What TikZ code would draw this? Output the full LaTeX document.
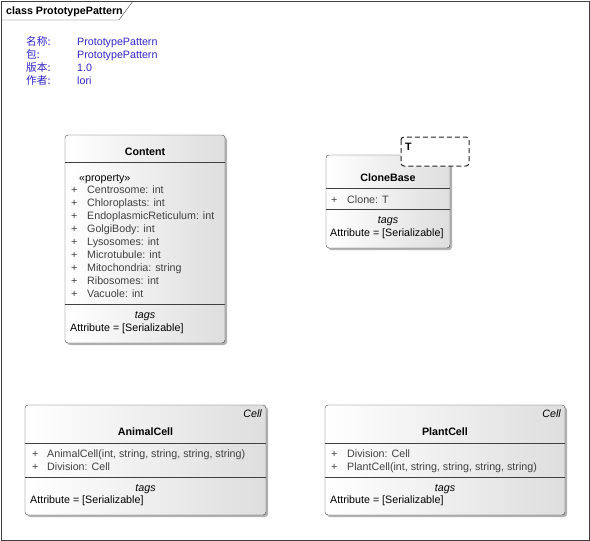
\documentclass[tikz,border=0pt]{standalone}
\usepackage{fontspec}
\setmainfont{Liberation Sans}
\newfontfamily\cjk{Noto Sans CJK SC}
\usetikzlibrary{positioning}
\definecolor{infoblue}{RGB}{48,36,200}
\definecolor{membergray}{RGB}{64,64,64}

\begin{document}
\begin{tikzpicture}[x=1pt, y=-1pt, font=\fontsize{10.7}{12}\selectfont,
    every node/.style={inner sep=0pt, anchor=base west},
    classbox/.style={draw=black!75, rounded corners=3pt, left color=white, right color=black!13},
    shadowbox/.style={fill=black!30, rounded corners=3pt},
    divider/.style={draw=black!75},
    info/.style={text=infoblue},
    member/.style={text=membergray},
    heading/.style={anchor=base, font=\fontsize{10.7}{12}\selectfont\bfseries},
    tagtitle/.style={anchor=base, font=\fontsize{10.7}{12}\selectfont\itshape},
    paramtag/.style={draw=black!85, dash pattern=on 5pt off 3pt, line width=1pt, rounded corners=3pt, fill=white}]
    \useasboundingbox (0,0) rectangle (590,541);

    % Frame and title tab
    \draw[black!75] (1,1) rectangle (589,540);
    \draw[black!75] (1,20) -- (119,20) -- (133,1);
    \node[font=\fontsize{10.7}{12}\selectfont\bfseries] (title) at (6,14.5) {class PrototypePattern};

    % Package info
    \node[info] (namekey) at (26,45) {\cjk 名称:};
    \node[info] (pkgkey) at (26,58) {\cjk 包:};
    \node[info] (verkey) at (26,71) {\cjk 版本:};
    \node[info] (authkey) at (26,84) {\cjk 作者:};
    \node[info] (nameval) at (77,45) {PrototypePattern};
    \node[info] (pkgval) at (77,58) {PrototypePattern};
    \node[info] (verval) at (77,71) {1.0};
    \node[info] (authval) at (77,84) {lori};

    % Content
    \fill[shadowbox] (67,137) rectangle (227,345);
    \draw[classbox] (65,135) rectangle (225,343);
    \node[heading] (content) at (145,155) {Content};
    \draw[divider] (65,162) -- (225,162);
    \node (contentstereo) at (79,181) {«property»};
    \foreach \attr [count=\i] in {Centrosome: int, Chloroplasts: int, EndoplasmicReticulum: int,
        GolgiBody: int, Lysosomes: int, Microtubule: int, Mitochondria: string,
        Ribosomes: int, Vacuole: int} {
        \node[member] (contentplus\i) at (71,180+13*\i) {+};
        \node[member] (contentattr\i) at (87,180+13*\i) {\attr};
    }
    \draw[divider] (65,304) -- (225,304);
    \node[tagtitle] (contenttags) at (145,318) {tags};
    \node (contentattrib) at (70,331) {Attribute = [Serializable]};

    % CloneBase
    \fill[shadowbox] (328,157) rectangle (452,250);
    \draw[classbox] (326,155) rectangle (450,248);
    \draw[paramtag] (401,137) rectangle (469,166);
    \node[font=\fontsize{10.7}{12}\selectfont\bfseries] (tparam) at (405,150) {T};
    \node[heading] (clonebase) at (388,181) {CloneBase};
    \draw[divider] (326,188) -- (450,188);
    \node[member] (cloneplus) at (331,203) {+};
    \node[member] (cloneop) at (347,203) {Clone: T};
    \draw[divider] (326,209) -- (450,209);
    \node[tagtitle] (clonetags) at (388,223) {tags};
    \node (cloneattrib) at (330,236) {Attribute = [Serializable]};

    % AnimalCell
    \fill[shadowbox] (27,407) rectangle (268,517);
    \draw[classbox] (25,405) rectangle (266,515);
    \node[anchor=base east, font=\fontsize{10.7}{12}\selectfont\itshape] (animalbase) at (262,417) {Cell};
    \node[heading] (animalcell) at (145.5,435) {AnimalCell};
    \draw[divider] (25,443) -- (266,443);
    \node[member] (animalplus1) at (32,457) {+};
    \node[member] (animalop1) at (47,457) {AnimalCell(int, string, string, string, string)};
    \node[member] (animalplus2) at (32,470) {+};
    \node[member] (animalop2) at (47,470) {Division: Cell};
    \draw[divider] (25,477) -- (266,477);
    \node[tagtitle] (animaltags) at (145.5,491) {tags};
    \node (animalattrib) at (30,503) {Attribute = [Serializable]};

    % PlantCell
    \fill[shadowbox] (327,407) rectangle (567,517);
    \draw[classbox] (325,405) rectangle (565,515);
    \node[anchor=base east, font=\fontsize{10.7}{12}\selectfont\itshape] (plantbase) at (561,417) {Cell};
    \node[heading] (plantcell) at (445,435) {PlantCell};
    \draw[divider] (325,443) -- (565,443);
    \node[member] (plantplus1) at (331,457) {+};
    \node[member] (plantop1) at (347,457) {Division: Cell};
    \node[member] (plantplus2) at (331,470) {+};
    \node[member] (plantop2) at (347,470) {PlantCell(int, string, string, string, string)};
    \draw[divider] (325,477) -- (565,477);
    \node[tagtitle] (planttags) at (445,491) {tags};
    \node (plantattrib) at (330,503) {Attribute = [Serializable]};
\end{tikzpicture}
\end{document}
